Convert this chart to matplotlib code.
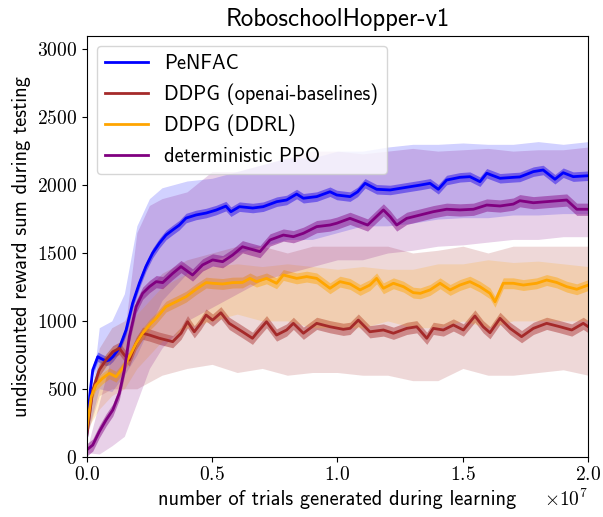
import numpy as np
import matplotlib
matplotlib.use("Agg")
import matplotlib.pyplot as plt
from matplotlib.ticker import ScalarFormatter

plt.rcParams['axes.formatter.use_mathtext'] = True
plt.rcParams['mathtext.fontset'] = 'cm'

# ---------------- data (x in units of 1e7 trials) ----------------
labels = ["PeNFAC", "DDPG (openai-baselines)", "DDPG (DDRL)", "deterministic PPO"]
colors = ["blue", "brown", "orange", "purple"]

x_penfac = [0, 0.012, 0.024, 0.044, 0.06, 0.077, 0.09, 0.104, 0.13, 0.157, 0.183, 0.21, 0.236, 0.263,
            0.29, 0.316, 0.343, 0.369, 0.396, 0.436, 0.476, 0.516, 0.555, 0.575, 0.609, 0.662, 0.704,
            0.758, 0.797, 0.837, 0.864, 0.917, 0.97, 0.997, 1.05, 1.08, 1.11, 1.156, 1.21, 1.276, 1.33,
            1.369, 1.402, 1.435, 1.488, 1.528, 1.568, 1.595, 1.648, 1.701, 1.727, 1.781, 1.82, 1.867,
            1.9, 1.94, 2.0]
y_penfac = [150, 450, 638, 736, 720, 705, 712, 736, 800, 933, 1130, 1278, 1400, 1500,
            1573, 1632, 1670, 1705, 1757, 1780, 1794, 1816, 1845, 1804, 1841, 1831, 1841,
            1878, 1890, 1934, 1903, 1915, 1951, 1927, 1915, 1950, 2013, 1969, 1964, 1984, 2000,
            2013, 1969, 2037, 2057, 2062, 2025, 2087, 2050, 2057, 2060, 2099, 2111, 2043,
            2091, 2062, 2069]

x_ddpg_oa = [0, 0.024, 0.05, 0.077, 0.104, 0.13, 0.15, 0.17, 0.197, 0.223, 0.25, 0.29, 0.343, 0.376,
             0.402, 0.429, 0.455, 0.476, 0.502, 0.535, 0.568, 0.621, 0.661, 0.677, 0.717, 0.757, 0.797,
             0.824, 0.864, 0.917, 0.97, 1.023, 1.05, 1.083, 1.129, 1.183, 1.223, 1.276, 1.316, 1.356,
             1.382, 1.422, 1.462, 1.502, 1.548, 1.581, 1.608, 1.648, 1.688, 1.734, 1.781, 1.834, 1.887,
             1.934, 1.98, 2.0]
y_ddpg_oa = [150, 491, 638, 712, 773, 798, 749, 712, 835, 909, 896, 872, 847, 909,
             994, 920, 982, 1043, 1006, 1060, 982, 920, 872, 909, 994, 896, 933,
             982, 909, 982, 957, 938, 945, 1006, 920, 933, 909, 945, 957, 872,
             945, 933, 970, 933, 1036, 957, 913, 1019, 945, 884, 945, 982, 957,
             933, 982, 957]

x_ddpg_ddrl = [0, 0.018, 0.036, 0.063, 0.09, 0.117, 0.143, 0.17, 0.197, 0.223, 0.25, 0.277, 0.316, 0.356,
               0.396, 0.436, 0.476, 0.502, 0.542, 0.582, 0.621, 0.651, 0.677, 0.717, 0.757, 0.784, 0.837,
               0.877, 0.917, 0.97, 1.01, 1.05, 1.09, 1.129, 1.156, 1.183, 1.223, 1.263, 1.302, 1.33,
               1.369, 1.409, 1.449, 1.488, 1.528, 1.568, 1.608, 1.628, 1.661, 1.701, 1.741, 1.794, 1.834,
               1.874, 1.914, 1.954, 2.0]
y_ddpg_ddrl = [200, 442, 528, 577, 614, 589, 651, 736, 835, 909, 970, 1019, 1105, 1141,
               1178, 1233, 1282, 1277, 1272, 1282, 1283, 1313, 1289, 1313, 1277, 1338, 1313,
               1326, 1313, 1240, 1289, 1272, 1228, 1264, 1313, 1240, 1277, 1252, 1208, 1203,
               1228, 1277, 1228, 1264, 1289, 1252, 1203, 1141, 1277, 1277, 1264, 1277, 1301,
               1283, 1252, 1233, 1264]

x_ppo = [0, 0.024, 0.05, 0.077, 0.104, 0.13, 0.15, 0.17, 0.197, 0.223, 0.25, 0.277, 0.303, 0.343,
         0.376, 0.422, 0.462, 0.502, 0.542, 0.582, 0.621, 0.651, 0.691, 0.731, 0.784, 0.824, 0.864,
         0.917, 0.97, 0.997, 1.05, 1.12, 1.183, 1.21, 1.236, 1.276, 1.33, 1.382, 1.435, 1.488,
         1.542, 1.595, 1.648, 1.701, 1.727, 1.781, 1.834, 1.914, 1.954, 2.0]
y_ppo = [50, 86, 184, 270, 344, 467, 638, 884, 1105, 1203, 1252, 1289, 1282, 1350,
         1400, 1338, 1412, 1449, 1436, 1485, 1546, 1530, 1510, 1596, 1632, 1620, 1645,
         1694, 1706, 1719, 1755, 1706, 1817, 1767, 1706, 1755, 1780, 1804, 1822, 1817,
         1822, 1853, 1846, 1860, 1885, 1870, 1878, 1890, 1822, 1822]

# outer (wide) bands on a coarse grid
x_band = [0, 0.05, 0.1, 0.15, 0.2, 0.25, 0.3, 0.4, 0.5, 0.6, 0.7, 0.8, 0.9, 1.0,
          1.1, 1.2, 1.3, 1.4, 1.5, 1.6, 1.7, 1.8, 1.9, 2.0]
penfac_hi = [150, 950, 1000, 1200, 1700, 1900, 1980, 2030, 2050, 2100, 2150, 2200, 2200, 2250,
             2250, 2280, 2300, 2300, 2310, 2300, 2300, 2320, 2300, 2320]
penfac_lo = [150, 500, 480, 600, 750, 950, 1150, 1350, 1450, 1500, 1550, 1600, 1600, 1650,
             1700, 1700, 1720, 1750, 1760, 1760, 1780, 1780, 1790, 1790]
ddpg_oa_hi = [150, 800, 950, 1000, 1150, 1250, 1350, 1450, 1500, 1550, 1550, 1500, 1550, 1550,
              1550, 1550, 1500, 1520, 1550, 1500, 1550, 1550, 1550, 1550]
ddpg_oa_lo = [150, 450, 500, 500, 500, 550, 600, 650, 680, 620, 650, 600, 620, 620,
              600, 600, 560, 560, 650, 600, 600, 620, 640, 600]
ddpg_ddrl_hi = [200, 700, 800, 850, 1050, 1150, 1250, 1350, 1400, 1420, 1400, 1420, 1400, 1380,
                1400, 1380, 1380, 1420, 1420, 1450, 1430, 1440, 1420, 1400]
ddpg_ddrl_lo = [200, 350, 450, 500, 650, 750, 850, 950, 1000, 1050, 1000, 1000, 950, 950,
                950, 1000, 950, 950, 1000, 950, 1000, 1000, 1000, 1000]
ppo_hi = [50, 400, 750, 900, 1650, 1850, 1900, 1950, 2100, 2100, 2150, 2200, 2250, 2250,
          2230, 2250, 2270, 2250, 2260, 2270, 2250, 2260, 2260, 2280]
ppo_lo = [30, 20, 80, 150, 400, 650, 800, 1000, 1100, 1200, 1300, 1350, 1400, 1450,
          1450, 1500, 1520, 1550, 1560, 1580, 1600, 1600, 1620, 1620]

# narrow band half-widths (standard error)
inner_half = [35, 45, 40, 45]

series = [
    (x_penfac, y_penfac, penfac_lo, penfac_hi),
    (x_ddpg_oa, y_ddpg_oa, ddpg_oa_lo, ddpg_oa_hi),
    (x_ddpg_ddrl, y_ddpg_ddrl, ddpg_ddrl_lo, ddpg_ddrl_hi),
    (x_ppo, y_ppo, ppo_lo, ppo_hi),
]

# ---------------- plotting ----------------
fig = plt.figure(figsize=(6.03, 5.17), dpi=100)
ax = fig.add_axes([0.1438, 0.1166, 0.8318, 0.8144])

sans = ['cmss10', 'DejaVu Sans']
serif = ['cmr10', 'DejaVu Serif']

for (xs, ys, lo, hi), c, lab, h in zip(series, colors, labels, inner_half):
    xs = np.array(xs) * 1e7
    ys = np.array(ys, dtype=float)
    xb = np.array(x_band) * 1e7
    ax.fill_between(xb, lo, hi, color=c, alpha=0.18, linewidth=0)
    ax.fill_between(xs, ys - h, ys + h, color=c, alpha=0.45, linewidth=0)
    ax.plot(xs, ys, color=c, lw=2, label=lab)

ax.set_xlim(0, 2e7)
ax.set_ylim(0, 3100)
ax.set_xticks([0, 0.5e7, 1.0e7, 1.5e7, 2.0e7])
ax.set_yticks([0, 500, 1000, 1500, 2000, 2500, 3000])
fmt = ScalarFormatter(useMathText=True)
fmt.set_powerlimits((0, 0))
ax.xaxis.set_major_formatter(fmt)
for t in ax.get_xticklabels() + ax.get_yticklabels():
    t.set_fontfamily(serif)
    t.set_fontsize(14)
off = ax.xaxis.get_offset_text()
off.set_fontsize(14)
off.set_fontfamily(serif)

ax.set_title("RoboschoolHopper-v1", fontsize=17.8, family=sans, pad=7)
ax.set_xlabel("number of trials generated during learning", fontsize=14.7, family=sans)
ax.set_ylabel("undiscounted reward sum during testing", fontsize=14.7, family=sans)

leg = ax.legend(loc='upper left', prop={'family': sans, 'size': 14.7}, labelspacing=0.5,
                handlelength=2.1, borderaxespad=0.5)

fig.savefig("out.png", dpi=100)
